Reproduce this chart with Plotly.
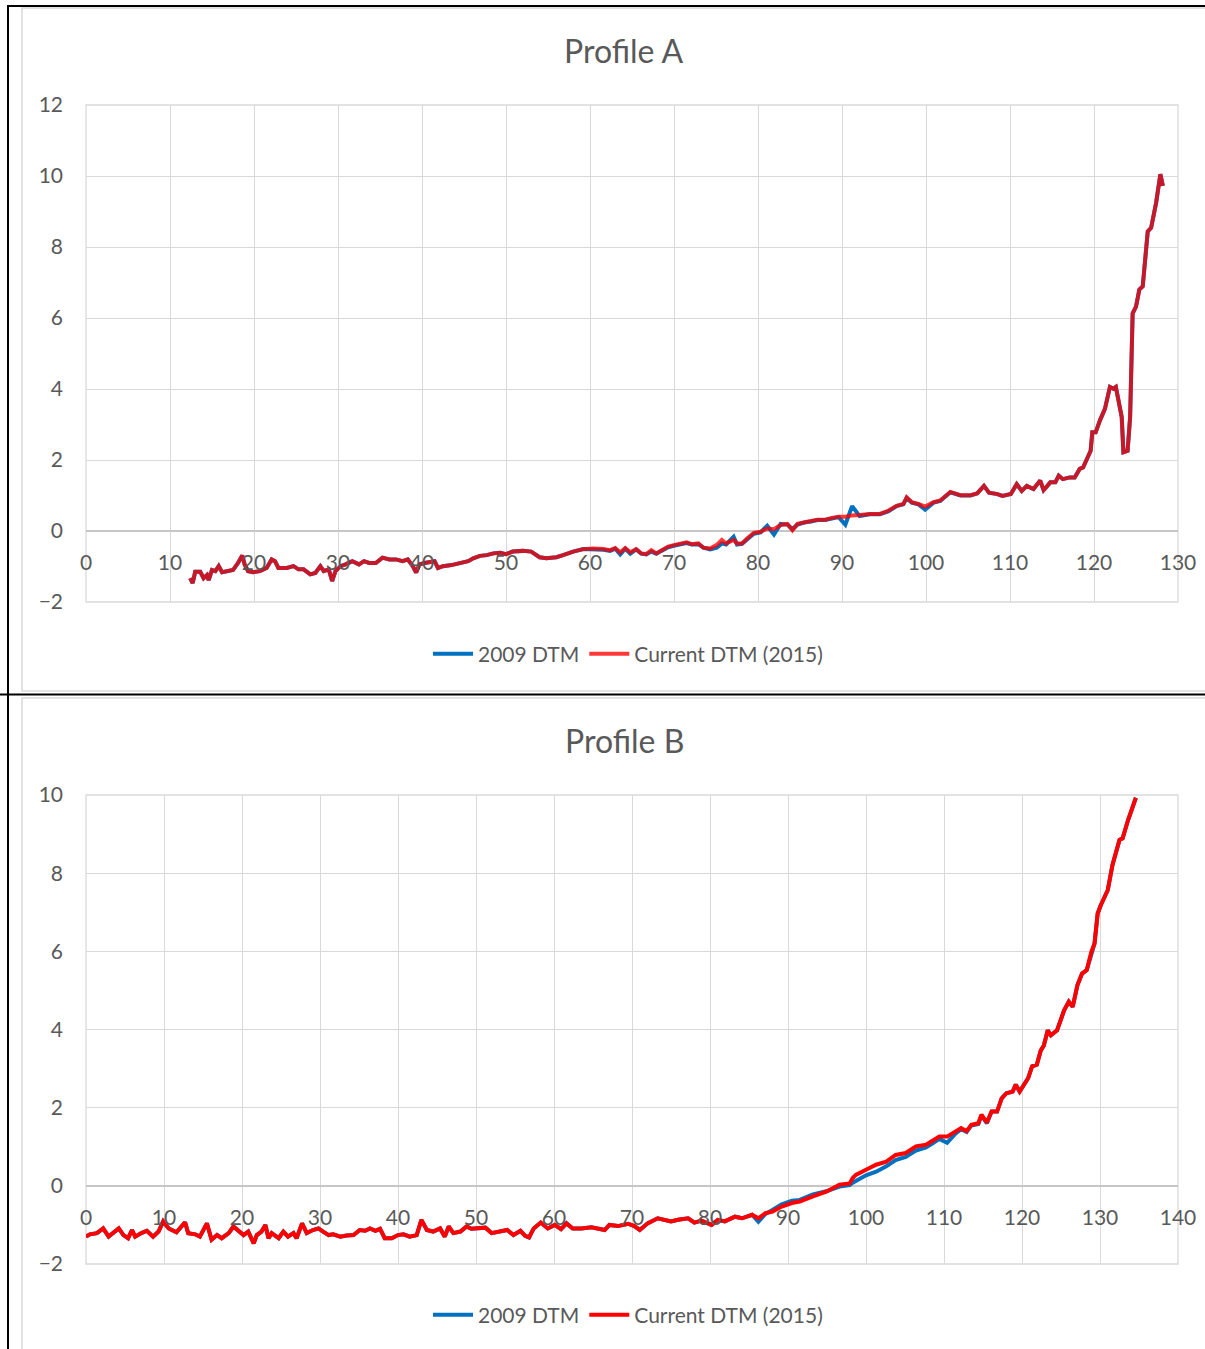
import plotly.graph_objects as go

W, H = 1205, 1349

# ---------------- Profile A data ----------------
xa = [12.4, 12.7, 13.0, 13.6, 14.0, 14.4, 14.6, 15.0, 15.4, 15.8,
      16.2, 16.7, 17.5, 18.1, 18.6, 18.9, 19.3, 19.9, 20.7, 21.5,
      22.1, 22.5, 22.9, 23.9, 24.7, 25.3, 25.9, 26.7, 27.3, 27.9,
      28.3, 28.9, 29.3, 29.7, 30.3, 30.9, 31.7, 32.5, 33.1, 33.7,
      34.5, 35.3, 36.1, 36.9, 37.7, 38.3, 38.9, 39.3, 39.7, 40.3,
      41.5, 41.9, 42.5, 43.5, 44.5, 45.5, 46.1, 46.9, 47.7, 48.5,
      49.3, 50.0, 50.8, 52.0, 53.0, 54.0, 54.8, 56.0, 56.8, 58.0,
      59.2, 60.4, 61.6, 62.4, 63.0, 63.6, 64.2, 64.8, 65.5, 66.1,
      66.7, 67.3, 67.9, 68.5, 69.3, 70.1, 70.9, 71.5, 72.1, 72.9,
      73.5, 74.3, 75.1, 75.7, 76.2, 77.1, 77.5, 78.1, 78.7, 79.5,
      80.3, 81.1, 81.9, 82.7, 83.5, 84.1, 84.7, 85.5, 86.3, 87.1,
      88.0, 88.8, 89.6, 90.4, 91.2, 92.1, 93.3, 94.5, 95.5, 96.5,
      97.3, 97.7, 98.3, 99.1, 99.9, 100.9, 101.7, 102.9, 104.1, 105.3,
      106.1, 106.9, 107.5, 108.5, 109.1, 110.1, 110.8, 111.4, 112.0, 112.8,
      113.6, 114.0, 114.8, 115.4, 115.8, 116.3, 117.1, 117.7, 118.3, 118.7,
      119.3, 119.6, 119.8, 120.2, 120.7, 121.3, 121.9, 122.3, 122.6, 123.3,
      123.5, 124.0, 124.3, 124.6, 125.0, 125.4, 125.8, 126.4, 126.8, 127.4,
      127.9, 128.2]

a_2015 = [-1.33, -1.47, -1.15, -1.15, -1.33, -1.24, -1.38, -1.10, -1.13, -0.99,
          -1.16, -1.13, -1.10, -0.90, -0.69, -0.95, -1.13, -1.16, -1.13, -1.04,
          -0.80, -0.85, -1.04, -1.04, -0.99, -1.08, -1.08, -1.22, -1.18, -0.99,
          -1.13, -1.08, -1.41, -1.13, -0.99, -0.94, -0.85, -0.94, -0.85, -0.90,
          -0.90, -0.75, -0.80, -0.80, -0.85, -0.80, -0.99, -1.17, -0.94, -0.90,
          -0.85, -1.04, -0.99, -0.96, -0.90, -0.85, -0.77, -0.70, -0.68, -0.63,
          -0.61, -0.65, -0.58, -0.56, -0.58, -0.74, -0.77, -0.74, -0.68, -0.58,
          -0.51, -0.49, -0.51, -0.54, -0.48, -0.60, -0.48, -0.60, -0.51, -0.63,
          -0.65, -0.54, -0.63, -0.54, -0.44, -0.39, -0.35, -0.32, -0.37, -0.35,
          -0.47, -0.49, -0.39, -0.25, -0.35, -0.25, -0.35, -0.35, -0.21, -0.05,
          -0.02, 0.07, 0.05, 0.17, 0.20, 0.02, 0.20, 0.25, 0.28, 0.32,
          0.32, 0.37, 0.40, 0.40, 0.44, 0.45, 0.48, 0.48, 0.57, 0.71,
          0.76, 0.95, 0.81, 0.76, 0.69, 0.81, 0.86, 1.10, 1.01, 1.01,
          1.06, 1.27, 1.08, 1.04, 0.99, 1.04, 1.32, 1.13, 1.27, 1.18,
          1.42, 1.15, 1.37, 1.37, 1.56, 1.46, 1.51, 1.51, 1.75, 1.79,
          2.12, 2.26, 2.78, 2.78, 3.11, 3.44, 4.06, 4.01, 4.06, 3.21,
          2.22, 2.26, 3.21, 6.13, 6.32, 6.80, 6.89, 8.44, 8.54, 9.25,
          10.05, 9.72]

a_2009 = [-1.33, -1.47, -1.15, -1.15, -1.33, -1.24, -1.38, -1.10, -1.13, -0.99,
          -1.16, -1.13, -1.10, -0.90, -0.69, -0.95, -1.13, -1.16, -1.13, -1.04,
          -0.80, -0.85, -1.04, -1.04, -0.99, -1.08, -1.08, -1.22, -1.18, -0.99,
          -1.13, -1.08, -1.41, -1.13, -0.99, -0.94, -0.85, -0.94, -0.85, -0.90,
          -0.90, -0.75, -0.80, -0.80, -0.85, -0.80, -0.99, -1.17, -0.94, -0.90,
          -0.85, -1.04, -0.99, -0.96, -0.90, -0.85, -0.77, -0.70, -0.68, -0.63,
          -0.61, -0.65, -0.58, -0.56, -0.58, -0.74, -0.77, -0.74, -0.68, -0.58,
          -0.51, -0.51, -0.53, -0.56, -0.50, -0.66, -0.50, -0.64, -0.52, -0.64,
          -0.66, -0.58, -0.64, -0.56, -0.46, -0.41, -0.37, -0.34, -0.38, -0.37,
          -0.47, -0.52, -0.47, -0.35, -0.38, -0.16, -0.38, -0.36, -0.24, -0.08,
          -0.04, 0.15, -0.10, 0.20, 0.18, 0.05, 0.18, 0.24, 0.27, 0.31,
          0.31, 0.36, 0.39, 0.18, 0.70, 0.42, 0.47, 0.47, 0.55, 0.70,
          0.75, 0.93, 0.80, 0.75, 0.60, 0.80, 0.85, 1.09, 1.00, 1.00,
          1.06, 1.27, 1.08, 1.04, 0.99, 1.04, 1.32, 1.13, 1.27, 1.18,
          1.42, 1.15, 1.37, 1.37, 1.56, 1.46, 1.51, 1.51, 1.75, 1.79,
          2.12, 2.26, 2.78, 2.78, 3.11, 3.44, 4.06, 4.01, 4.06, 3.21,
          2.22, 2.26, 3.21, 6.13, 6.32, 6.80, 6.89, 8.44, 8.54, 9.25,
          10.05, 9.72]

# ---------------- Profile B data ----------------
xb = [0.0, 0.5, 1.4, 2.2, 2.9, 3.5, 4.2, 4.8, 5.4, 5.9,
      6.3, 7.1, 7.8, 8.6, 9.3, 9.9, 10.6, 11.6, 12.7, 13.1,
      14.0, 14.6, 15.5, 16.1, 16.8, 17.4, 18.3, 18.9, 19.5, 20.2,
      20.8, 21.5, 21.9, 22.5, 23.0, 23.4, 23.8, 24.7, 25.3, 25.9,
      26.6, 27.0, 27.7, 28.3, 29.1, 29.8, 30.4, 31.1, 31.7, 32.6,
      33.4, 34.3, 35.1, 35.8, 36.4, 37.1, 37.7, 38.3, 39.2, 40.0,
      40.7, 41.5, 42.4, 43.0, 43.7, 44.5, 45.4, 46.0, 46.5, 47.1,
      48.0, 48.8, 49.4, 50.3, 51.2, 52.0, 53.1, 54.0, 54.8, 55.7,
      56.3, 56.8, 57.4, 58.3, 59.2, 60.1, 60.9, 61.6, 62.4, 63.5,
      64.8, 66.5, 67.1, 68.2, 69.5, 70.3, 71.0, 72.0, 73.3, 74.1,
      75.0, 75.9, 77.2, 78.0, 78.9, 80.2, 81.0, 81.9, 83.2, 84.1,
      85.4, 86.2, 87.1, 88.0, 89.2, 90.5, 91.5, 93.2, 94.9, 96.6,
      97.9, 98.3, 98.7, 100.0, 101.3, 102.6, 103.8, 105.1, 106.4, 107.7,
      108.5, 109.4, 110.4, 111.5, 112.2, 112.9, 113.5, 114.4, 114.8, 115.5,
      116.1, 116.8, 117.4, 118.0, 118.8, 119.2, 119.7, 120.8, 121.3, 121.9,
      122.4, 122.8, 123.3, 123.7, 124.5, 125.4, 126.0, 126.5, 127.1, 127.7,
      128.3, 128.9, 129.3, 129.7, 130.1, 131.0, 131.6, 132.5, 132.9, 133.6,
      134.2, 134.6]

b_2015 = [-1.30, -1.24, -1.21, -1.09, -1.30, -1.21, -1.09, -1.26, -1.34, -1.13,
          -1.30, -1.21, -1.15, -1.30, -1.17, -0.91, -1.09, -1.19, -0.93, -1.21,
          -1.24, -1.30, -0.96, -1.38, -1.26, -1.34, -1.21, -1.04, -1.13, -1.26,
          -1.17, -1.47, -1.26, -1.17, -1.00, -1.34, -1.21, -1.34, -1.17, -1.30,
          -1.21, -1.34, -0.96, -1.21, -1.13, -1.09, -1.17, -1.26, -1.24, -1.30,
          -1.27, -1.26, -1.13, -1.15, -1.09, -1.15, -1.10, -1.34, -1.34, -1.26,
          -1.24, -1.30, -1.26, -0.87, -1.13, -1.17, -1.09, -1.30, -1.04, -1.21,
          -1.17, -1.04, -1.10, -1.09, -1.07, -1.21, -1.17, -1.13, -1.26, -1.15,
          -1.28, -1.32, -1.09, -0.94, -1.09, -1.00, -1.11, -0.96, -1.09, -1.09,
          -1.06, -1.13, -1.00, -1.03, -0.97, -1.03, -1.13, -0.96, -0.83, -0.87,
          -0.91, -0.87, -0.83, -0.94, -0.89, -1.00, -0.87, -0.91, -0.79, -0.83,
          -0.74, -0.83, -0.70, -0.66, -0.53, -0.44, -0.40, -0.27, -0.15, 0.03,
          0.06, 0.20, 0.28, 0.41, 0.54, 0.62, 0.79, 0.84, 1.01, 1.05,
          1.14, 1.26, 1.26, 1.39, 1.48, 1.40, 1.56, 1.60, 1.82, 1.62,
          1.90, 1.90, 2.24, 2.37, 2.41, 2.59, 2.41, 2.76, 3.06, 3.10,
          3.46, 3.59, 3.98, 3.85, 3.98, 4.49, 4.71, 4.58, 5.13, 5.43,
          5.52, 5.99, 6.20, 6.97, 7.18, 7.57, 8.21, 8.85, 8.89, 9.36,
          9.70, 9.93]

b_2009 = [-1.30, -1.24, -1.21, -1.09, -1.30, -1.21, -1.09, -1.26, -1.34, -1.13,
          -1.30, -1.21, -1.15, -1.30, -1.17, -0.91, -1.09, -1.19, -0.93, -1.21,
          -1.24, -1.30, -0.96, -1.38, -1.26, -1.34, -1.21, -1.04, -1.13, -1.26,
          -1.17, -1.47, -1.26, -1.17, -1.00, -1.34, -1.21, -1.34, -1.17, -1.30,
          -1.21, -1.34, -0.96, -1.21, -1.13, -1.09, -1.17, -1.26, -1.24, -1.30,
          -1.27, -1.26, -1.13, -1.15, -1.09, -1.15, -1.10, -1.34, -1.34, -1.26,
          -1.24, -1.30, -1.26, -0.87, -1.13, -1.17, -1.09, -1.30, -1.04, -1.21,
          -1.17, -1.04, -1.10, -1.09, -1.07, -1.21, -1.17, -1.13, -1.26, -1.15,
          -1.28, -1.32, -1.09, -0.94, -1.09, -1.00, -1.11, -0.96, -1.09, -1.09,
          -1.06, -1.13, -1.00, -1.03, -0.97, -1.03, -1.13, -0.96, -0.83, -0.87,
          -0.91, -0.87, -0.83, -0.94, -0.89, -1.00, -0.87, -0.91, -0.79, -0.83,
          -0.74, -0.92, -0.72, -0.62, -0.47, -0.38, -0.36, -0.22, -0.14, -0.02,
          0.02, 0.08, 0.12, 0.27, 0.36, 0.50, 0.66, 0.74, 0.90, 0.98,
          1.08, 1.20, 1.10, 1.34, 1.45, 1.38, 1.54, 1.58, 1.80, 1.60,
          1.90, 1.90, 2.24, 2.37, 2.41, 2.59, 2.41, 2.76, 3.06, 3.10,
          3.46, 3.59, 3.98, 3.85, 3.98, 4.49, 4.71, 4.58, 5.13, 5.43,
          5.52, 5.99, 6.20, 6.97, 7.18, 7.57, 8.21, 8.85, 8.89, 9.36,
          9.70, 9.93]

series_names = ["2009 DTM", "Current DTM (2015)"]
titles = ["Profile A", "Profile B"]

# ---------------- styling ----------------
FONT = "Lato, 'Open Sans', sans-serif"
TXT = "#595959"
GRID = "#D9D9D9"
BLUE = "#0070C0"
RED_A = "rgba(255,0,0,0.78)"
RED_B = "#FF0000"
LW = 4


def px(x):
    return x / W


def py(y):
    return 1 - y / H


# plot-area pixel boxes
A_left, A_right, A_top, A_bot = 86, 1178, 105, 602
B_left, B_right, B_top, B_bot = 86, 1178, 795, 1264

fig = go.Figure()

fig.add_trace(go.Scatter(x=xa, y=a_2009, mode="lines", name=series_names[0],
                         line=dict(color=BLUE, width=LW), xaxis="x", yaxis="y",
                         legend="legend"))
fig.add_trace(go.Scatter(x=xa, y=a_2015, mode="lines", name=series_names[1],
                         line=dict(color=RED_A, width=LW), xaxis="x", yaxis="y",
                         legend="legend"))
fig.add_trace(go.Scatter(x=xb, y=b_2009, mode="lines", name=series_names[0],
                         line=dict(color=BLUE, width=LW), xaxis="x2", yaxis="y2",
                         legend="legend2"))
fig.add_trace(go.Scatter(x=xb, y=b_2015, mode="lines", name=series_names[1],
                         line=dict(color=RED_B, width=LW), xaxis="x2", yaxis="y2",
                         legend="legend2"))

tickfont = dict(family=FONT, size=21, color=TXT)

# y domains
ya_dom = [py(A_bot), py(A_top)]
yb_dom = [py(B_bot), py(B_top)]
# paper position of value 0
ya_zero = ya_dom[0] + (0 - (-2)) / 14 * (ya_dom[1] - ya_dom[0])
yb_zero = yb_dom[0] + (0 - (-2)) / 12 * (yb_dom[1] - yb_dom[0])

common_x = dict(showgrid=True, gridcolor=GRID, gridwidth=1.3, zeroline=False,
                showline=False, ticks="", tickfont=tickfont, dtick=10, tick0=0,
                anchor="free", ticklabelstandoff=17, fixedrange=True,
                automargin=False)
common_y = dict(showgrid=True, gridcolor=GRID, gridwidth=1.3, zeroline=True,
                zerolinecolor="#C6C6C6", zerolinewidth=1.6, showline=False,
                ticks="", tickfont=tickfont, dtick=2, ticklabelstandoff=22,
                fixedrange=True, automargin=False)

fig.update_layout(
    width=W, height=H, autosize=False,
    margin=dict(l=0, r=0, t=0, b=0, pad=0),
    paper_bgcolor="white", plot_bgcolor="white",
    font=dict(family=FONT, color=TXT),
    xaxis=dict(domain=[px(A_left), px(A_right)], range=[0, 130],
               position=ya_zero, **common_x),
    yaxis=dict(domain=ya_dom, range=[-2, 12], anchor="x", **common_y),
    xaxis2=dict(domain=[px(B_left), px(B_right)], range=[0, 140],
                position=yb_zero, **common_x),
    yaxis2=dict(domain=yb_dom, range=[-2, 10], anchor="x2", **common_y),
    legend=dict(orientation="h", x=px(628), y=py(654), xanchor="center",
                yanchor="middle", font=dict(family=FONT, size=21, color=TXT),
                bgcolor="rgba(0,0,0,0)", itemwidth=40),
    legend2=dict(orientation="h", x=px(628), y=py(1315), xanchor="center",
                 yanchor="middle", font=dict(family=FONT, size=21, color=TXT),
                 bgcolor="rgba(0,0,0,0)", itemwidth=40),
    showlegend=True,
)

# chart titles
for t, yy in zip(titles, [50, 740]):
    fig.add_annotation(text=t, x=px(624), y=py(yy), xref="paper", yref="paper",
                       xanchor="center", yanchor="middle", showarrow=False,
                       font=dict(family=FONT, size=32, color=TXT))

shapes = []
# plot-area borders (grid colour)
for xr, yr in [("x domain", "y domain"), ("x2 domain", "y2 domain")]:
    shapes.append(dict(type="rect", xref=xr, yref=yr, x0=0, x1=1, y0=0, y1=1,
                       line=dict(color=GRID, width=1.3), layer="below"))
# chart frames (light grey)
shapes.append(dict(type="rect", xref="paper", yref="paper", x0=px(22), x1=px(1215),
                   y0=py(691), y1=py(8), line=dict(color="#D9D9D9", width=1.5)))
shapes.append(dict(type="rect", xref="paper", yref="paper", x0=px(22), x1=px(1215),
                   y0=py(1360), y1=py(698), line=dict(color="#D9D9D9", width=1.5)))
# black document borders
shapes.append(dict(type="line", xref="paper", yref="paper", x0=px(8), x1=px(8),
                   y0=py(5), y1=py(1352), line=dict(color="black", width=2)))
shapes.append(dict(type="line", xref="paper", yref="paper", x0=px(7), x1=px(1210),
                   y0=py(6), y1=py(6), line=dict(color="black", width=2)))
shapes.append(dict(type="line", xref="paper", yref="paper", x0=px(0), x1=px(1210),
                   y0=py(694.5), y1=py(694.5), line=dict(color="black", width=2)))
fig.update_layout(shapes=shapes)

fig.write_html(
    "out.html",
    config={"displayModeBar": False},
    post_script="document.body.style.margin='0';document.body.style.overflow='hidden';",
)
